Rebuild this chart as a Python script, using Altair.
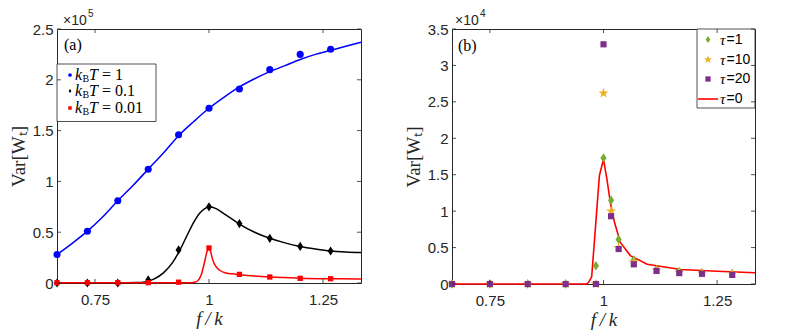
import altair as alt
import pandas as pd

GRAY = "#262626"
SERIF = "Liberation Serif"
SANS = "Liberation Sans"

# ---------------- panel (a) data (Var in units of 1e5) ----------------
A_X = [0.6667, 0.7333, 0.8, 0.8667, 0.9333, 1.0, 1.0667, 1.1333, 1.2, 1.2667]
A_BLUE_PTS = [0.28, 0.51, 0.81, 1.12, 1.46, 1.72, 1.91, 2.10, 2.25, 2.30]
A_BLACK_PTS = [0.0, 0.0, 0.0, 0.03, 0.325, 0.75, 0.585, 0.44, 0.36, 0.315]
A_RED_PTS = [0.003, 0.003, 0.003, 0.003, 0.008, 0.345, 0.085, 0.059, 0.046, 0.042]

A_BLUE_CX = [0.6667, 0.70, 0.7333, 0.7667, 0.80, 0.8333, 0.8667, 0.90, 0.9333, 0.9667, 1.0,
             1.0333, 1.0667, 1.10, 1.1333, 1.1667, 1.20, 1.2333, 1.2667, 1.30, 1.3333]
A_BLUE_CY = [0.28, 0.39, 0.51, 0.65, 0.81, 0.96, 1.12, 1.28, 1.45, 1.59, 1.72,
             1.83, 1.93, 2.01, 2.08, 2.14, 2.20, 2.25, 2.29, 2.33, 2.37]
A_BLACK_CX = [0.6667, 0.80, 0.84, 0.86, 0.88, 0.90, 0.92, 0.9333, 0.95, 0.9667, 0.98, 0.99, 1.0,
              1.0167, 1.0333, 1.05, 1.0667, 1.10, 1.1333, 1.1667, 1.20, 1.2333, 1.2667, 1.30, 1.3333]
A_BLACK_CY = [0.002, 0.002, 0.004, 0.01, 0.04, 0.10, 0.20, 0.30, 0.45, 0.60, 0.69, 0.73, 0.75,
              0.73, 0.68, 0.63, 0.58, 0.50, 0.44, 0.395, 0.36, 0.335, 0.315, 0.305, 0.30]
A_RED_CX = [0.6667, 0.96, 0.97, 0.975, 0.983, 0.99, 0.995, 1.0, 1.004, 1.008, 1.014, 1.022,
            1.035, 1.05, 1.0667, 1.10, 1.1333, 1.20, 1.2667, 1.3333]
A_RED_CY = [0.003, 0.003, 0.01, 0.02, 0.08, 0.20, 0.30, 0.345, 0.30, 0.23, 0.17, 0.13,
            0.10, 0.09, 0.082, 0.068, 0.058, 0.047, 0.042, 0.040]

# ---------------- panel (b) data (Var in units of 1e4) ----------------
B_X = [0.6667, 0.75, 0.8333, 0.9167, 0.9833, 1.0, 1.0167, 1.0333, 1.0667, 1.1167, 1.1667, 1.2167, 1.2833]
B_TAU1 = [0, 0, 0, 0, 0.25, 1.73, 1.15, 0.61, 0.33, 0.20, 0.17, 0.155, 0.145]
B_TAU10 = [0, 0, 0, 0, 0, 2.62, 1.0, 0.5, 0.30, 0.19, 0.16, 0.15, 0.14]
B_TAU20 = [0, 0, 0, 0, 0, 3.29, 0.93, 0.48, 0.27, 0.18, 0.15, 0.14, 0.125]
B_TAU0_X = [0.6667, 0.963, 0.968, 0.974, 0.982, 0.991, 1.0, 1.0075, 1.015, 1.024, 1.037,
            1.059, 1.096, 1.17, 1.25, 1.3333]
B_TAU0_Y = [0.0, 0.0, 0.03, 0.10, 0.75, 1.49, 1.71, 1.44, 1.12, 0.85, 0.57,
            0.39, 0.27, 0.20, 0.175, 0.155]

X_TICKS = [0.75, 1.0, 1.25]
A_Y_TICKS = [0, 0.5, 1, 1.5, 2, 2.5]
B_Y_TICKS = [0, 0.5, 1, 1.5, 2, 2.5, 3, 3.5]

DIAMOND = "M0,-1L0.65,0L0,1L-0.65,0Z"
STAR = ("M0,-1L0.2245,-0.309L0.951,-0.309L0.363,0.118L0.588,0.809L0,0.382"
        "L-0.588,0.809L-0.363,0.118L-0.951,-0.309L-0.2245,-0.309Z")

DUMMY = pd.DataFrame({"d": [0]})
LABEL_EXPR = "datum.value == round(datum.value) ? format(datum.value, 'd') : format(datum.value, '.2~f')"


def make_panel(W, H, ydom, yticks, ytitle, layers_fn):
    X = alt.X("x:Q", scale=alt.Scale(domain=[2 / 3, 4 / 3], nice=False, zero=False, padding=0),
              axis=alt.Axis(values=X_TICKS, labelExpr=LABEL_EXPR, labelFlush=False,
                            title="f\u2009/\u2009k", titleFontStyle="italic"))
    Y = alt.Y("y:Q", scale=alt.Scale(domain=ydom, nice=False, padding=0),
              axis=alt.Axis(values=yticks, labelExpr=LABEL_EXPR, title=ytitle))
    layers = layers_fn(X, Y)
    tx = pd.DataFrame({"x": X_TICKS})
    ty = pd.DataFrame({"y": yticks})
    rule = dict(color=GRAY, strokeWidth=0.8)
    layers += [
        alt.Chart(tx).mark_rule(**rule).encode(x=X, y=alt.value(H), y2=alt.value(H - 4)),
        alt.Chart(tx).mark_rule(**rule).encode(x=X, y=alt.value(0), y2=alt.value(4)),
        alt.Chart(ty).mark_rule(**rule).encode(y=Y, x=alt.value(0), x2=alt.value(4)),
        alt.Chart(ty).mark_rule(**rule).encode(y=Y, x=alt.value(W - 4), x2=alt.value(W)),
    ]
    return alt.layer(*layers).properties(width=W, height=H)


def txt(s, x, y, size, font=SERIF, style="normal", baseline="middle", color="black", align="left"):
    return alt.Chart(DUMMY).mark_text(text=s, font=font, fontSize=size, fontStyle=style,
                                      baseline=baseline, align=align, color=color).encode(
        x=alt.value(x), y=alt.value(y))


def box(x1, x2, y1, y2):
    return alt.Chart(DUMMY).mark_rect(fill="white", stroke=GRAY, strokeWidth=0.8).encode(
        x=alt.value(x1), x2=alt.value(x2), y=alt.value(y1), y2=alt.value(y2))


def sym(x, y, shape, color, size):
    return alt.Chart(DUMMY).mark_point(shape=shape, filled=True, color=color, size=size, opacity=1).encode(
        x=alt.value(x), y=alt.value(y))


# ---------------- panel (a) ----------------
WA, HA = 304, 254


def layers_a(X, Y):
    L = []
    for cx, cy, col in [(A_BLUE_CX, A_BLUE_CY, "#0000ff"), (A_BLACK_CX, A_BLACK_CY, "#000000"),
                        (A_RED_CX, A_RED_CY, "#ff0000")]:
        L.append(alt.Chart(pd.DataFrame({"x": cx, "y": cy})).mark_line(
            color=col, strokeWidth=1.5, interpolate="monotone").encode(x=X, y=Y))
    L.append(alt.Chart(pd.DataFrame({"x": A_X, "y": A_BLUE_PTS})).mark_point(
        shape="circle", filled=True, color="#0000ff", size=50, opacity=1).encode(x=X, y=Y))
    L.append(alt.Chart(pd.DataFrame({"x": A_X, "y": A_BLACK_PTS})).mark_point(
        shape=DIAMOND, filled=True, color="#000000", size=85, opacity=1).encode(x=X, y=Y))
    L.append(alt.Chart(pd.DataFrame({"x": A_X, "y": A_RED_PTS})).mark_point(
        shape="square", filled=True, color="#ff0000", size=28, opacity=1).encode(x=X, y=Y))
    # annotations
    L.append(txt("(a)", 7, 16, 16))
    L.append(txt("×10", 6, -4, 14, font=SANS, baseline="alphabetic", color=GRAY))
    L.append(txt("5", 31, -12, 10, font=SANS, baseline="alphabetic", color=GRAY))
    # legend
    L.append(box(0, 99, 35, 92.5))
    rows = [("= 1", "#0000ff", "circle", 14), ("= 0.1", "#000000", DIAMOND, 18),
            ("= 0.01", "#ff0000", "square", 12)]
    ys = [46, 62, 79]
    for (val, col, shp, sz), yy in zip(rows, ys):
        L.append(sym(13, yy, shp, col, sz))
        L.append(txt("k", 18, yy, 16, style="italic"))
        L.append(txt("B", 25.5, yy + 4, 10))
        L.append(txt("T", 32, yy, 16, style="italic"))
        L.append(txt(val, 45, yy, 16))
    return L


panel_a = make_panel(WA, HA, [0, 2.5], A_Y_TICKS, "Var[Wₜ]", layers_a)

# ---------------- panel (b) ----------------
WB, HB = 303, 255


def layers_b(X, Y):
    L = []
    L.append(alt.Chart(pd.DataFrame({"x": B_TAU0_X, "y": B_TAU0_Y})).mark_line(
        color="#ff0000", strokeWidth=1.6).encode(x=X, y=Y))
    L.append(alt.Chart(pd.DataFrame({"x": B_X, "y": B_TAU1})).mark_point(
        shape=DIAMOND, filled=True, color="#77ac30", size=90, opacity=1).encode(x=X, y=Y))
    L.append(alt.Chart(pd.DataFrame({"x": B_X, "y": B_TAU10})).mark_point(
        shape=STAR, filled=True, color="#edb120", size=115, opacity=1).encode(x=X, y=Y))
    L.append(alt.Chart(pd.DataFrame({"x": B_X, "y": B_TAU20})).mark_point(
        shape="square", filled=True, color="#7e2f8e", size=38, opacity=1).encode(x=X, y=Y))
    L.append(txt("(b)", 6, 17, 16))
    L.append(txt("×10", 3, -4, 14, font=SANS, baseline="alphabetic", color=GRAY))
    L.append(txt("4", 28, -12, 10, font=SANS, baseline="alphabetic", color=GRAY))
    # legend
    L.append(box(245, 303, 0, 79))
    ys = [10.5, 30.5, 50, 70]
    entries = [("=1", "#77ac30", DIAMOND, 50), ("=10", "#edb120", STAR, 75),
               ("=20", "#7e2f8e", "square", 28)]
    for (lab, col, shp, sz), yy in zip(entries, ys[:3]):
        L.append(sym(256, yy, shp, col, sz))
        L.append(txt("τ", 268, yy, 15, style="italic"))
        L.append(txt(lab, 274.5, yy, 14, font=SANS, color="black"))
    L.append(alt.Chart(DUMMY).mark_rule(color="#ff0000", strokeWidth=1.6).encode(
        x=alt.value(246), x2=alt.value(266), y=alt.value(ys[3])))
    L.append(txt("τ", 268, ys[3], 15, style="italic"))
    L.append(txt("=0", 274.5, ys[3], 14, font=SANS, color="black"))
    return L


panel_b = make_panel(WB, HB, [0, 3.5], B_Y_TICKS, "Var[Wₜ]", layers_b)

chart = alt.hconcat(panel_a, panel_b, spacing=38).properties(
    padding={"left": 0, "top": 0, "right": 0, "bottom": 0}
).configure_view(stroke=GRAY, strokeWidth=1).configure_axis(
    grid=False, domain=False, ticks=False,
    labelFont=SANS, labelFontSize=15, labelColor=GRAY, labelPadding=5,
    titleFont=SERIF, titleFontSize=19, titleFontWeight="normal", titleColor=GRAY,
).configure_axisX(labelPadding=9, titlePadding=2).configure_axisY(labelPadding=4, titlePadding=4)

chart.save("out.html", embed_options={"renderer": "svg", "actions": False})
